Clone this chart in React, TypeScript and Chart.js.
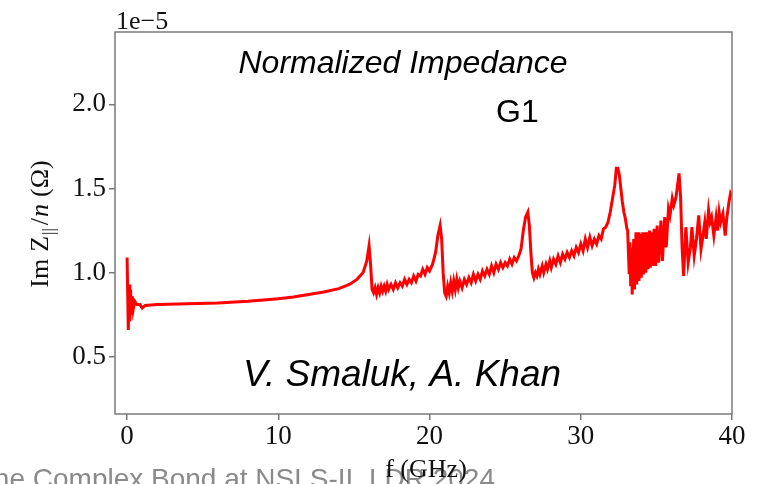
import React, { useEffect, useRef } from "react";
import { Chart, registerables } from "chart.js";

Chart.register(...registerables);

// Frequency (GHz)
const freqGHz: number[] = [
  0, 0.08, 0.13, 0.18, 0.23, 0.28, 0.33, 0.4, 0.5, 0.65, 0.85, 1.0, 1.2,
  2, 4, 6, 8, 10, 11, 12, 13, 14, 14.7, 15.2, 15.6, 15.85, 16.0, 16.1, 16.2,
  16.3, 16.4, 16.5, 16.6, 16.7, 16.8, 16.9, 17.0, 17.1, 17.2, 17.3, 17.45, 17.6, 17.75, 17.9,
  18.05, 18.2, 18.35, 18.5, 18.65, 18.8, 18.95, 19.1, 19.25, 19.4, 19.55, 19.7, 19.85, 20.0,
  20.2, 20.4, 20.55, 20.7, 20.8, 20.9, 21.0,
  21.1, 21.2, 21.3, 21.4, 21.5, 21.6, 21.7, 21.8, 21.9, 22.0, 22.15, 22.3, 22.45, 22.6, 22.75,
  22.9, 23.05, 23.2, 23.35, 23.5, 23.65, 23.8, 23.95, 24.1, 24.25, 24.4, 24.55, 24.7, 24.85,
  25.0, 25.15, 25.3, 25.45, 25.6, 25.75, 25.9, 26.05, 26.2, 26.35, 26.5, 26.6, 26.7, 26.8,
  26.9, 27.0, 27.1, 27.2, 27.3, 27.45, 27.55, 27.7, 27.8, 27.95, 28.05, 28.2, 28.35, 28.5,
  28.65, 28.8, 28.95, 29.1, 29.25, 29.4, 29.55, 29.7, 29.85, 30.0, 30.15, 30.3, 30.45, 30.6,
  30.75, 30.9, 31.05, 31.2, 31.35, 31.5, 31.65, 31.8, 31.95, 32.1, 32.25, 32.35, 32.45, 32.55,
  32.65, 32.75, 32.85, 32.95, 33.05, 33.1, 33.2, 33.25, 33.3, 33.35, 33.4, 33.5, 33.55, 33.65,
  33.7, 33.8, 33.85, 33.95, 34.0, 34.1, 34.15, 34.25, 34.3, 34.4, 34.45, 34.55, 34.6, 34.7,
  34.75, 34.85, 34.95, 35.05, 35.15, 35.3, 35.4, 35.55, 35.65, 35.8, 35.9, 36.05, 36.15, 36.3,
  36.4, 36.5, 36.6, 36.7, 36.8, 36.95, 37.1, 37.25, 37.35, 37.5, 37.65, 37.8, 37.95, 38.05,
  38.2, 38.3, 38.45, 38.55, 38.65, 38.8, 38.95, 39.05, 39.15, 39.25, 39.4, 39.55, 39.65, 39.8,
  39.9, 40.0,
];

// Im Z||/n in units of 1e-5 Ohm
const imZ: number[] = [
  1.09, 0.66, 0.93, 0.71, 0.90, 0.75, 0.86, 0.78, 0.83, 0.81, 0.81, 0.79, 0.805,
  0.81, 0.815, 0.82, 0.83, 0.845, 0.855, 0.87, 0.885, 0.905, 0.93, 0.96, 1.0, 1.07, 1.16, 1.05, 0.9,
  0.88, 0.91, 0.87, 0.91, 0.88, 0.92, 0.89, 0.92, 0.89, 0.93, 0.9, 0.93, 0.9, 0.94, 0.91,
  0.94, 0.92, 0.96, 0.93, 0.96, 0.94, 0.98, 0.95, 0.99, 0.98, 1.02, 0.99, 1.03, 1.01,
  1.05, 1.12, 1.22, 1.28, 1.2, 1.0, 0.88,
  0.86, 0.92, 0.88, 0.94, 0.89, 0.95, 0.9, 0.96, 0.91, 0.95, 0.91, 0.96, 0.93, 0.97, 0.94,
  0.99, 0.95, 0.99, 0.96, 1.01, 0.98, 1.02, 0.99, 1.04, 1.0, 1.05, 1.02, 1.06, 1.03,
  1.06, 1.04, 1.08, 1.05, 1.09, 1.07, 1.1, 1.14, 1.25, 1.33, 1.36, 1.28, 1.12, 1.0,
  0.97, 1.0, 0.98, 1.02, 0.99, 1.04, 1.0, 1.05, 1.02, 1.07, 1.03, 1.08, 1.05, 1.1,
  1.06, 1.11, 1.08, 1.12, 1.09, 1.13, 1.1, 1.15, 1.12, 1.17, 1.13, 1.2, 1.15, 1.21,
  1.16, 1.2, 1.17, 1.22, 1.2, 1.26, 1.27, 1.3, 1.36, 1.44, 1.52, 1.62, 1.62, 1.58,
  1.5, 1.42, 1.36, 1.32, 1.26, 1.25, 1.0, 1.18, 0.92, 1.15, 0.87, 1.2, 0.9, 1.24,
  0.93, 1.24, 0.95, 1.23, 0.97, 1.24, 0.99, 1.24, 1.0, 1.24, 1.02, 1.25, 1.03, 1.24,
  1.04, 1.26, 1.04, 1.28, 1.06, 1.31, 1.07, 1.33, 1.15, 1.38, 1.34, 1.44, 1.4, 1.45,
  1.52, 1.59, 1.45, 1.15, 0.98, 1.27, 1.06, 1.15, 1.27, 1.1, 1.2, 1.34, 1.14, 1.2,
  1.3, 1.2, 1.37, 1.3, 1.33, 1.22, 1.33, 1.25, 1.36, 1.3, 1.35, 1.22, 1.32, 1.42,
  1.47, 1.45,
];

const xTicks: number[] = [0, 10, 20, 30, 40];
const yTicks: number[] = [0.5, 1.0, 1.5, 2.0];

const W = 761;
const H = 484;
const SPINE = "#7a7a7a";
const SERIF = "'Liberation Serif', 'DejaVu Serif', serif";
const SANS = "'Liberation Sans', Arial, sans-serif";

const overlay = {
  id: "overlay",
  beforeDraw(chart: any) {
    const ctx = chart.ctx;
    ctx.save();
    ctx.fillStyle = "#fff";
    ctx.fillRect(0, 0, chart.width, chart.height);
    ctx.restore();
  },
  afterDraw(chart: any) {
    const ctx = chart.ctx;
    const a = chart.chartArea;
    ctx.save();
    // frame
    ctx.strokeStyle = SPINE;
    ctx.lineWidth = 1.5;
    ctx.strokeRect(a.left, a.top, a.right - a.left, a.bottom - a.top);

    // background slide footer (cut off)
    ctx.fillStyle = "#8a8a8a";
    ctx.font = `28px ${SANS}`;
    ctx.textAlign = "right";
    ctx.textBaseline = "alphabetic";
    ctx.fillText("ne Complex Bond at NSLS-II, LDR 2024", 495, 488);

    // offset text
    ctx.fillStyle = "#111";
    ctx.textAlign = "left";
    ctx.font = `26px ${SERIF}`;
    ctx.fillText("1e\u22125", 116, 29);

    // x label
    ctx.textAlign = "center";
    ctx.font = `26px ${SERIF}`;
    ctx.fillText("f (GHz)", 426, 477);

    // annotations
    ctx.fillStyle = "#000";
    ctx.font = `italic 32px ${SANS}`;
    ctx.fillText("Normalized Impedance", 403, 73);
    ctx.textAlign = "left";
    ctx.font = `32px ${SANS}`;
    ctx.fillText("G1", 496, 122);
    ctx.textAlign = "center";
    ctx.font = `italic 37px ${SANS}`;
    ctx.fillText("V. Smaluk, A. Khan", 402, 386);

    // y label, rotated
    ctx.save();
    ctx.translate(48, 224);
    ctx.rotate(-Math.PI / 2);
    ctx.fillStyle = "#111";
    const parts: { t: string; f: string; dy: number; gap: number }[] = [
      { t: "Im", f: `26px ${SERIF}`, dy: 0, gap: 7 },
      { t: "Z", f: `26px ${SERIF}`, dy: 0, gap: 1 },
      { t: "||", f: `17px ${SERIF}`, dy: 6, gap: 3 },
      { t: "/", f: `26px ${SERIF}`, dy: 0, gap: 1 },
      { t: "n", f: `italic 26px ${SERIF}`, dy: 0, gap: 7 },
      { t: "(\u03A9)", f: `26px ${SERIF}`, dy: 0, gap: 0 },
    ];
    let total = 0;
    for (const p of parts) {
      ctx.font = p.f;
      total += ctx.measureText(p.t).width + p.gap;
    }
    let x = -total / 2;
    ctx.textAlign = "left";
    for (const p of parts) {
      ctx.font = p.f;
      ctx.fillText(p.t, x, p.dy);
      x += ctx.measureText(p.t).width + p.gap;
    }
    ctx.restore();
    ctx.restore();
  },
};

export default function App() {
  const ref = useRef<HTMLCanvasElement | null>(null);
  useEffect(() => {
    if (!ref.current) return;
    const points = freqGHz.map((f, i) => ({ x: f, y: imZ[i] }));
    const chart = new Chart(ref.current, {
      type: "line",
      data: {
        datasets: [
          {
            data: points,
            borderColor: "#ff0000",
            borderWidth: 3,
            pointRadius: 0,
            tension: 0,
            fill: false,
          },
        ],
      },
      options: {
        animation: false,
        responsive: false,
        devicePixelRatio: 1,
        layout: { padding: { left: 0, top: 32, right: 29, bottom: 0 } },
        plugins: { legend: { display: false }, tooltip: { enabled: false } },
        scales: {
          x: {
            type: "linear",
            min: -0.8,
            max: 40,
            afterBuildTicks: (s: any) => {
              s.ticks = xTicks.map((v) => ({ value: v }));
            },
            afterFit: (s: any) => {
              s.height = 70;
            },
            grid: {
              display: true,
              drawOnChartArea: false,
              drawTicks: true,
              tickLength: 6,
              color: SPINE,
              lineWidth: 1.5,
            },
            border: { display: false },
            ticks: {
              color: "#111",
              font: { family: SERIF, size: 27 },
              padding: 1,
              maxRotation: 0,
              autoSkip: false,
              callback: (v: any) => String(v),
            },
          },
          y: {
            type: "linear",
            min: 0.16,
            max: 2.43,
            afterBuildTicks: (s: any) => {
              s.ticks = yTicks.map((v) => ({ value: v }));
            },
            afterFit: (s: any) => {
              s.width = 115;
            },
            grid: {
              display: true,
              drawOnChartArea: false,
              drawTicks: true,
              tickLength: 6,
              color: SPINE,
              lineWidth: 1.5,
            },
            border: { display: false },
            ticks: {
              color: "#111",
              font: { family: SERIF, size: 27 },
              padding: 3,
              autoSkip: false,
              callback: (v: any) => Number(v).toFixed(1),
            },
          },
        },
      },
      plugins: [overlay],
    });
    return () => chart.destroy();
  }, []);
  return (
    <div style={{ position: "absolute", left: 0, top: 0, width: W, height: H }}>
      <canvas ref={ref} width={W} height={H} style={{ width: W, height: H, display: "block" }} />
    </div>
  );
}
